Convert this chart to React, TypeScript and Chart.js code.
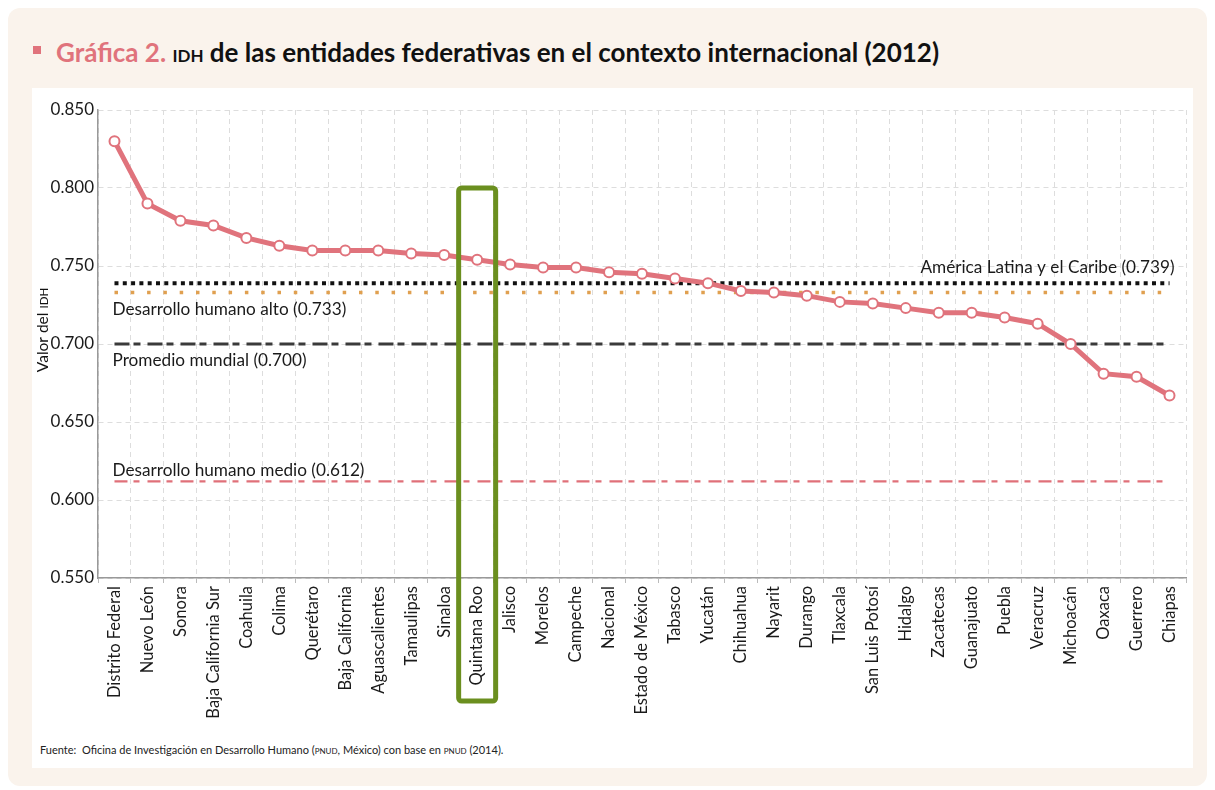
import React, { useEffect, useRef } from "react";
import { Chart, registerables } from "chart.js";

Chart.register(...registerables);

const categories: string[] = [
  "Distrito Federal", "Nuevo León", "Sonora", "Baja California Sur", "Coahuila", "Colima",
  "Querétaro", "Baja California", "Aguascalientes", "Tamaulipas", "Sinaloa", "Quintana Roo",
  "Jalisco", "Morelos", "Campeche", "Nacional", "Estado de México", "Tabasco", "Yucatán",
  "Chihuahua", "Nayarit", "Durango", "Tlaxcala", "San Luis Potosí", "Hidalgo", "Zacatecas",
  "Guanajuato", "Puebla", "Veracruz", "Michoacán", "Oaxaca", "Guerrero", "Chiapas",
];

const idhValues: number[] = [
  0.830, 0.790, 0.779, 0.776, 0.768, 0.763, 0.760, 0.760, 0.760, 0.758, 0.757, 0.754,
  0.751, 0.749, 0.749, 0.746, 0.745, 0.742, 0.739, 0.734, 0.733, 0.731, 0.727, 0.726,
  0.723, 0.720, 0.720, 0.717, 0.713, 0.700, 0.681, 0.679, 0.667,
];

const refLabels: string[] = [
  "América Latina y el Caribe (0.739)",
  "Desarrollo humano alto (0.733)",
  "Promedio mundial (0.700)",
  "Desarrollo humano medio (0.612)",
];
const refValues: number[] = [0.739, 0.733, 0.700, 0.612];

const yTicks: number[] = [0.55, 0.6, 0.65, 0.7, 0.75, 0.8, 0.85];
const highlighted = "Quintana Roo";

const PINK = "#e0737c";
const FONT = "Lato, 'Open Sans', sans-serif";

export default function App() {
  const canvasRef = useRef<HTMLCanvasElement | null>(null);

  useEffect(() => {
    if (!canvasRef.current) return;

    const overlay = {
      id: "overlay",
      afterDatasetsDraw(chart: any) {
        const { ctx, chartArea, scales } = chart;
        const xs = scales.x;
        const ys = scales.y;
        const firstX = xs.getPixelForValue(0);
        const lastX = xs.getPixelForValue(categories.length - 1);
        ctx.save();
        ctx.fillStyle = "#1a1a1a";
        ctx.font = `17.2px ${FONT}`;
        ctx.textBaseline = "middle";
        ctx.textAlign = "right";
        ctx.fillText(refLabels[0], lastX + 5, ys.getPixelForValue(refValues[0]) - 16);
        ctx.textAlign = "left";
        ctx.fillText(refLabels[1], firstX - 2, ys.getPixelForValue(refValues[1]) + 17);
        ctx.fillText(refLabels[2], firstX - 2, ys.getPixelForValue(refValues[2]) + 16);
        ctx.fillText(refLabels[3], firstX - 2, ys.getPixelForValue(refValues[3]) - 11);

        // green highlight box
        const idx = categories.indexOf(highlighted);
        const cx = xs.getPixelForValue(idx);
        const top = ys.getPixelForValue(0.8);
        const bottom = chartArea.bottom + 123;
        ctx.strokeStyle = "#6b8f1f";
        ctx.lineWidth = 5;
        ctx.lineJoin = "round";
        const w = 37;
        ctx.beginPath();
        if ((ctx as any).roundRect) {
          (ctx as any).roundRect(cx - w / 2, top, w, bottom - top, 3);
        } else {
          ctx.rect(cx - w / 2, top, w, bottom - top);
        }
        ctx.stroke();

        // y-axis title
        ctx.translate(11, (chartArea.top + chartArea.bottom) / 2 - 14);
        ctx.rotate(-Math.PI / 2);
        ctx.fillStyle = "#111";
        ctx.textAlign = "left";
        ctx.textBaseline = "middle";
        ctx.font = `15.5px ${FONT}`;
        const t1 = "Valor del ";
        const w1 = ctx.measureText(t1).width;
        ctx.font = `11.5px ${FONT}`;
        const t2 = "IDH";
        const w2 = ctx.measureText(t2).width;
        const start = -(w1 + w2) / 2;
        ctx.font = `15.5px ${FONT}`;
        ctx.fillText(t1, start, 0);
        ctx.font = `11.5px ${FONT}`;
        ctx.fillText(t2, start + w1, 1);
        ctx.restore();
      },
    };

    const refData = (v: number) => categories.map(() => v);

    const chart = new Chart(canvasRef.current, {
      type: "line",
      data: {
        labels: categories,
        datasets: [
          {
            label: "IDH",
            data: idhValues,
            borderColor: PINK,
            borderWidth: 5,
            pointRadius: 5,
            pointBorderWidth: 2,
            pointBackgroundColor: "#ffffff",
            pointBorderColor: PINK,
            tension: 0,
            order: 0,
          },
          {
            label: refLabels[0],
            data: refData(refValues[0]),
            borderColor: "#111111",
            borderWidth: 4,
            borderDash: [4, 4.3],
            pointRadius: 0,
            order: 2,
          },
          {
            label: refLabels[1],
            data: refData(refValues[1]),
            borderColor: "#e0a050",
            borderWidth: 3.5,
            borderDash: [3.5, 12.8],
            pointRadius: 0,
            order: 3,
          },
          {
            label: refLabels[2],
            data: refData(refValues[2]),
            borderColor: "#3a3a3a",
            borderWidth: 2.8,
            borderDash: [15, 4, 7, 7],
            pointRadius: 0,
            order: 4,
          },
          {
            label: refLabels[3],
            data: refData(refValues[3]),
            borderColor: "#e07079",
            borderWidth: 2.2,
            borderDash: [13, 6, 6, 8],
            pointRadius: 0,
            order: 5,
          },
        ],
      },
      options: {
        animation: false,
        responsive: false,
        maintainAspectRatio: false,
        layout: { padding: { top: 22, right: 6, bottom: 10, left: 0 } },
        plugins: {
          legend: { display: false },
          tooltip: { enabled: false },
          title: { display: false },
        },
        scales: {
          x: {
            type: "category",
            offset: true,
            grid: {
              offset: true,
              color: "#dddddd",
              lineWidth: 1,
              drawTicks: true,
              tickLength: 5,
              tickColor: "#bbbbbb",
              tickBorderDash: [],
            },
            border: { display: true, color: "#999999", width: 1.5, dash: [5, 4] },
            ticks: {
              autoSkip: false,
              maxRotation: 90,
              minRotation: 90,
              padding: 3,
              color: "#1a1a1a",
              font: { family: FONT, size: 16.5 },
            },
            afterFit: (scale: any) => {
              scale.height = 140;
            },
          },
          y: {
            min: 0.55,
            max: 0.85,
            afterBuildTicks: (scale: any) => {
              scale.ticks = yTicks.map((v) => ({ value: v }));
            },
            grid: {
              color: "#dddddd",
              lineWidth: 1,
              drawTicks: false,
            },
            border: { display: true, color: "#999999", width: 1.5, dash: [5, 4] },
            ticks: {
              padding: 4,
              color: "#1a1a1a",
              font: { family: FONT, size: 17 },
              callback: (v: any) => Number(v).toFixed(3),
            },
            title: { display: false },
            afterFit: (scale: any) => {
              scale.width = 66;
            },
          },
        },
      },
      plugins: [overlay],
    });

    return () => chart.destroy();
  }, []);

  return (
    <div style={{ position: "absolute", left: 0, top: 0, width: 1215, height: 790, background: "#ffffff", fontFamily: FONT }}>
      <div style={{ position: "absolute", left: 8, top: 8, width: 1199, height: 778, background: "#faf3ec", borderRadius: 12 }} />
      <div style={{ position: "absolute", left: 33, top: 46, width: 8, height: 8, background: PINK }} />
      <div style={{ position: "absolute", left: 56, top: 34, whiteSpace: "nowrap", fontSize: 26, fontWeight: 700, color: "#111", lineHeight: "36px" }}>
        <span style={{ color: PINK }}>Gráfica 2.</span>{" "}
        <span style={{ fontSize: 17 }}>IDH</span>{" "}
        de las entidades federativas en el contexto internacional (2012)
      </div>
      <div style={{ position: "absolute", left: 32, top: 88, width: 1161, height: 680, background: "#ffffff" }} />
      <canvas ref={canvasRef} width={1161} height={640} style={{ position: "absolute", left: 32, top: 88, width: 1161, height: 640 }} />
      <div style={{ position: "absolute", left: 40, top: 742, whiteSpace: "nowrap", fontSize: 11, color: "#222", lineHeight: "16px" }}>
        Fuente:&nbsp; Oficina de Investigación en Desarrollo Humano (<span style={{ fontSize: 8 }}>PNUD</span>, México) con base en <span style={{ fontSize: 8 }}>PNUD</span> (2014).
      </div>
    </div>
  );
}
